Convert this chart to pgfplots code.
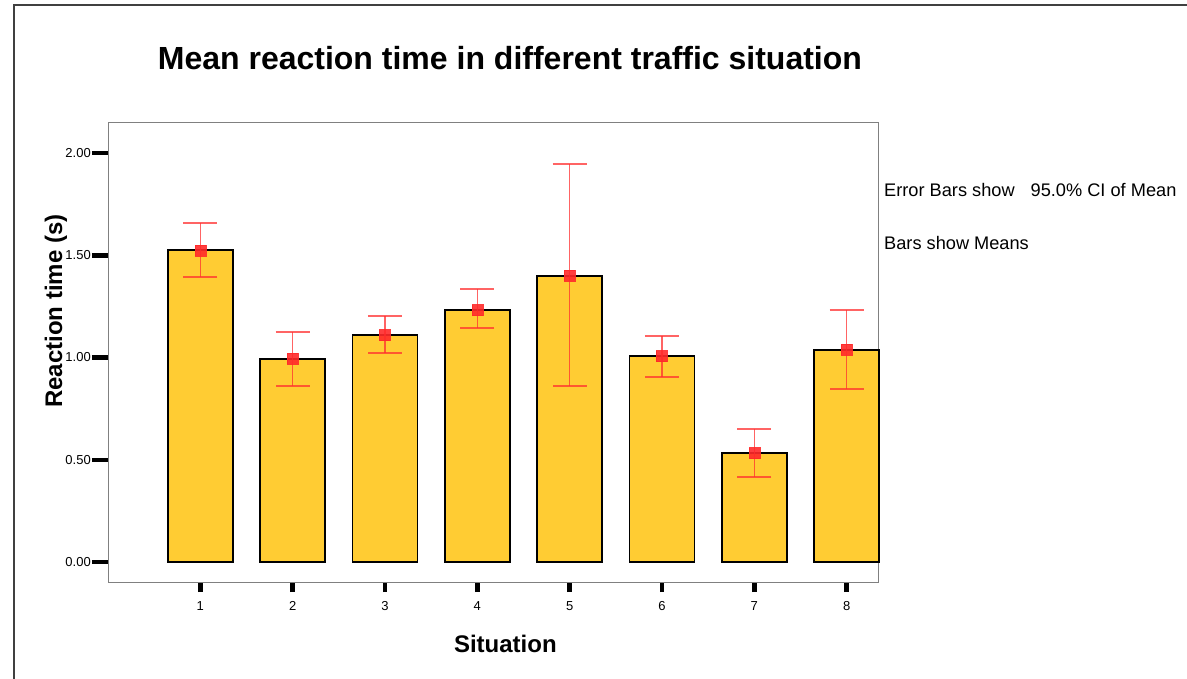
\documentclass[border=0pt]{standalone}
\usepackage{pgfplots}
\pgfplotsset{compat=1.18}
\usepackage{fontspec}
\setmainfont{Liberation Sans}
\definecolor{barfill}{HTML}{FFCC33}
\definecolor{errred}{HTML}{FF3030}
\definecolor{markred}{HTML}{FF2A2A}
\definecolor{framegray}{HTML}{404040}
\begin{document}
\begin{tikzpicture}[x=1pt,y=1pt]
\draw[framegray, line width=2pt] (14,-679) -- (14,-5) -- (1187,-5);
\begin{axis}[
  at={(108pt,-582pt)}, anchor=south west,
  scale only axis, width=770pt, height=460pt,
  xmin=0, xmax=8.34, ymin=-0.0978, ymax=2.1516,
  axis line style={draw=gray, line width=1pt},
  tick align=outside, tick pos=left,
  xtick={1,2,3,4,5,6,7,8}, ytick={0,0.5,1,1.5,2},
  major tick length=16pt,
  tick style={black, line width=4.5pt},
  xtick style={/pgfplots/major tick length=10pt},
  /pgf/number format/assume math mode=true,
  yticklabel style={font=\fontsize{13}{15}\selectfont, inner sep=1pt,
    /pgf/number format/.cd, fixed, fixed zerofill, precision=2},
  xticklabel style={font=\fontsize{13}{15}\selectfont},
  title={Mean reaction time in different traffic situation},
  title style={at={(axis description cs:0.522,1.1),}, anchor=base, font=\fontsize{32}{38}\selectfont\bfseries},
  xlabel={Situation},
  xlabel style={at={(axis description cs:0.516,-0.1543)}, anchor=base, font=\fontsize{24}{28}\selectfont\bfseries},
  ylabel={Reaction time (s)},
  ylabel style={at={(axis description cs:-0.0597,0.589)}, anchor=base, rotate=0, font=\fontsize{24}{28}\selectfont\bfseries},
  clip=false,
]
\addplot[ybar, bar width=65pt, fill=barfill, draw=black, line width=1.8pt] coordinates {
  (1,1.524) (2,0.993) (3,1.110) (4,1.232) (5,1.399) (6,1.007) (7,0.533) (8,1.037)
};
\addplot[only marks, mark=square*, mark size=5.5pt,
  mark options={fill=markred, draw=markred, opacity=0.9},
  error bars/.cd, y dir=both, y explicit,
  error bar style={errred, line width=1.5pt, opacity=0.75},
  error mark options={rotate=90, errred, mark size=17pt, line width=1.5pt, opacity=0.75}]
coordinates {
  (1,1.524) += (0,0.134) -= (0,0.130)
  (2,0.993) += (0,0.132) -= (0,0.132)
  (3,1.110) += (0,0.093) -= (0,0.088)
  (4,1.232) += (0,0.103) -= (0,0.088)
  (5,1.399) += (0,0.547) -= (0,0.538)
  (6,1.007) += (0,0.098) -= (0,0.102)
  (7,0.533) += (0,0.117) -= (0,0.117)
  (8,1.037) += (0,0.195) -= (0,0.191)
};
\end{axis}
\node[anchor=base west, inner sep=0pt, font=\fontsize{18.2}{22}\selectfont] at (884,-197) {Error Bars show\hspace{11pt} 95.0\% CI of Mean};
\node[anchor=base west, inner sep=0pt, font=\fontsize{18.2}{22}\selectfont] at (884,-250) {Bars show Means};
\pgfresetboundingbox
\path[use as bounding box] (0,0) rectangle (1187,-679);
\end{tikzpicture}
\end{document}
